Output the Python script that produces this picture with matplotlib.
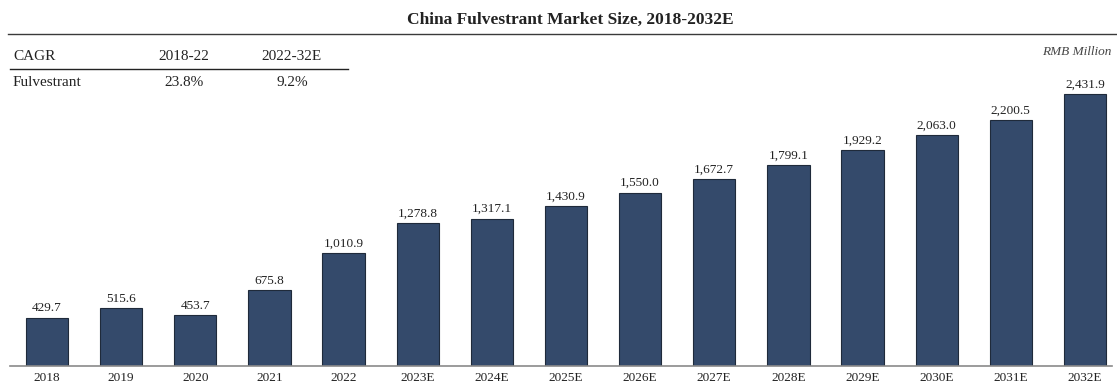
import matplotlib.pyplot as plt
from matplotlib.lines import Line2D

W, H = 1117, 385
DPI = 100

years = ["2018", "2019", "2020", "2021", "2022", "2023E", "2024E", "2025E",
         "2026E", "2027E", "2028E", "2029E", "2030E", "2031E", "2032E"]
market_size = [429.7, 515.6, 453.7, 675.8, 1010.9, 1278.8, 1317.1, 1430.9,
               1550.0, 1672.7, 1799.1, 1929.2, 2063.0, 2200.5, 2431.9]

cagr_header = ["CAGR", "2018-22", "2022-32E"]
cagr_row = ["Fulvestrant", "23.8%", "9.2%"]

BAR_COLOR = "#344a6b"
EDGE_COLOR = "#1f2a3a"
TEXT_COLOR = "#222222"

plt.rcParams["font.family"] = ["Liberation Serif", "DejaVu Serif"]


def px(x, y):
    # pixel position (from top-left) to figure fraction
    return x / W, 1 - y / H


fig = plt.figure(figsize=(W / DPI, H / DPI), dpi=DPI)

left, bottom = px(10, 366)
right, top = px(1112, 40)
ax = fig.add_axes((left, bottom, right - left, top - bottom))

xs = list(range(len(years)))
bars = ax.bar(xs, market_size, width=0.57, color=BAR_COLOR,
              edgecolor=EDGE_COLOR, linewidth=0.8, zorder=2)
for rect, v in zip(bars, market_size):
    ax.annotate(f"{v:,.1f}", (rect.get_x() + rect.get_width() / 2, v),
                xytext=(0, 2.5), textcoords="offset points",
                ha="center", va="bottom", fontsize=9.5, color=TEXT_COLOR)

ax.set_xlim(-0.499, 14.365)
ax.set_ylim(0, 2915)
ax.set_xticks(xs)
ax.set_xticklabels(years, fontsize=9.5, color=TEXT_COLOR)
ax.tick_params(axis="x", length=0, pad=4)
ax.set_yticks([])
for side in ["top", "left", "right"]:
    ax.spines[side].set_visible(False)
ax.spines["bottom"].set_color("#8a8a8a")
ax.spines["bottom"].set_linewidth(1.2)
ax.patch.set_alpha(0)

# title and rule beneath it
tx, ty = px(570, 20)
fig.text(tx, ty, "China Fulvestrant Market Size, 2018-2032E", ha="center",
         va="center", fontsize=12.5, fontweight="bold", color=TEXT_COLOR)
x0, y0 = px(8, 34)
x1, _ = px(W, 34)
fig.add_artist(Line2D([x0, x1], [y0, y0], color="#3a3a3a", linewidth=1.0))

# CAGR table
col_x = [13, 184, 292]
col_ha = ["left", "center", "center"]
for label, cx, ha in zip(cagr_header, col_x, col_ha):
    fx, fy = px(cx, 57)
    fig.text(fx, fy, label, ha=ha, va="center", fontsize=11, color=TEXT_COLOR)
for label, cx, ha in zip(cagr_row, col_x, col_ha):
    fx, fy = px(cx, 82)
    fig.text(fx, fy, label, ha=ha, va="center", fontsize=11, color=TEXT_COLOR)
x0, y0 = px(10, 69)
x1, _ = px(348, 69)
fig.add_artist(Line2D([x0, x1], [y0, y0], color="#222222", linewidth=1.0))

fx, fy = px(1111, 52)
fig.text(fx, fy, "RMB Million", ha="right", va="center", fontsize=9.5,
         style="italic", color="#444444")

fig.savefig("out.png", dpi=DPI)
